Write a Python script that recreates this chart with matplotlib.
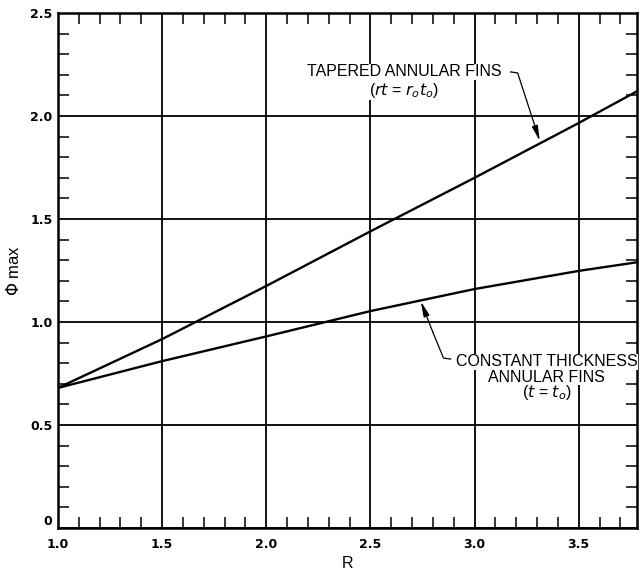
import matplotlib
matplotlib.use("Agg")
import matplotlib.pyplot as plt
import numpy as np
from matplotlib.ticker import MultipleLocator, FixedLocator

# values
R = [1.0, 1.5, 2.0, 2.5, 3.0, 3.5, 3.78]
phi_tapered = [0.68, 0.917, 1.175, 1.44, 1.70, 1.966, 2.12]
phi_constant = [0.68, 0.81, 0.93, 1.053, 1.16, 1.248, 1.29]

x_ticks = [1.0, 1.5, 2.0, 2.5, 3.0, 3.5]
x_tick_labels = ["1.0", "1.5", "2.0", "2.5", "3.0", "3.5"]
y_ticks = [0.0, 0.5, 1.0, 1.5, 2.0, 2.5]
y_tick_labels = ["0", "0.5", "1.0", "1.5", "2.0", "2.5"]

tapered_lines = ["TAPERED ANNULAR FINS", r"($\it{rt}$ = $\it{r_o t_o}$)"]
constant_lines = ["CONSTANT THICKNESS", "ANNULAR FINS", r"($\it{t}$ = $\it{t_o}$)"]

fig = plt.figure(figsize=(6.4, 5.7), dpi=100)
ax = fig.add_axes([58 / 640, 1 - 528 / 570, (637 - 58) / 640, (528 - 13) / 570])

ax.plot(R, phi_tapered, color="black", lw=1.7, solid_capstyle="butt", zorder=3)
ax.plot(R, phi_constant, color="black", lw=1.7, solid_capstyle="butt", zorder=3)

ax.set_xlim(1.0, 3.78)
ax.set_ylim(0.0, 2.5)
ax.xaxis.set_major_locator(FixedLocator(x_ticks))
ax.yaxis.set_major_locator(FixedLocator(y_ticks))
ax.set_xticklabels(x_tick_labels)
ax.set_yticklabels(y_tick_labels)
ax.xaxis.set_minor_locator(MultipleLocator(0.1))
ax.yaxis.set_minor_locator(MultipleLocator(0.1))

ax.grid(True, which="major", color="black", lw=1.3)
ax.tick_params(which="major", length=0, labelsize=9)
ax.tick_params(axis="x", which="major", pad=7)
ax.tick_params(axis="y", which="major", pad=4)
ax.tick_params(which="minor", direction="in", length=8, width=1.1,
               top=True, right=True, color="black")
for lab in ax.get_xticklabels() + ax.get_yticklabels():
    lab.set_fontweight("bold")
# the "0" label sits a little above the bottom axis line, as in the reference
ax.get_yticklabels()[0].set_verticalalignment("bottom")
for sp in ax.spines.values():
    sp.set_linewidth(1.8)

ax.set_xlabel("R", fontsize=11.5, family="Liberation Sans", labelpad=4)
ax.set_ylabel(r"$\Phi$ max", fontsize=12, family="Liberation Sans", labelpad=6)

txt = dict(fontsize=11.5, family="Liberation Sans", color="black", zorder=4,
           bbox=dict(facecolor="white", edgecolor="none", pad=0.3))

# tapered fins annotation
for s, y in zip(tapered_lines, [2.214, 2.126]):
    ax.text(2.663, y, s, ha="center", va="center", **txt)
ax.plot([3.173, 3.207, 3.25], [2.214, 2.209, 2.075], color="black", lw=0.9)
ax.annotate("", xy=(3.313, 1.879), xytext=(3.25, 2.075),
            arrowprops=dict(arrowstyle="-|>,head_length=0.9,head_width=0.18",
                            color="black", lw=0.9, shrinkA=0, shrinkB=0))

# constant thickness annotation
for s, y in zip(constant_lines, [0.806, 0.733, 0.658]):
    ax.text(3.345, y, s, ha="center", va="center", **txt)
ax.plot([2.885, 2.851, 2.80], [0.82, 0.825, 0.95], color="black", lw=0.9)
ax.annotate("", xy=(2.742, 1.10), xytext=(2.80, 0.95),
            arrowprops=dict(arrowstyle="-|>,head_length=0.9,head_width=0.18",
                            color="black", lw=0.9, shrinkA=0, shrinkB=0))

fig.savefig("out.png", dpi=100)
